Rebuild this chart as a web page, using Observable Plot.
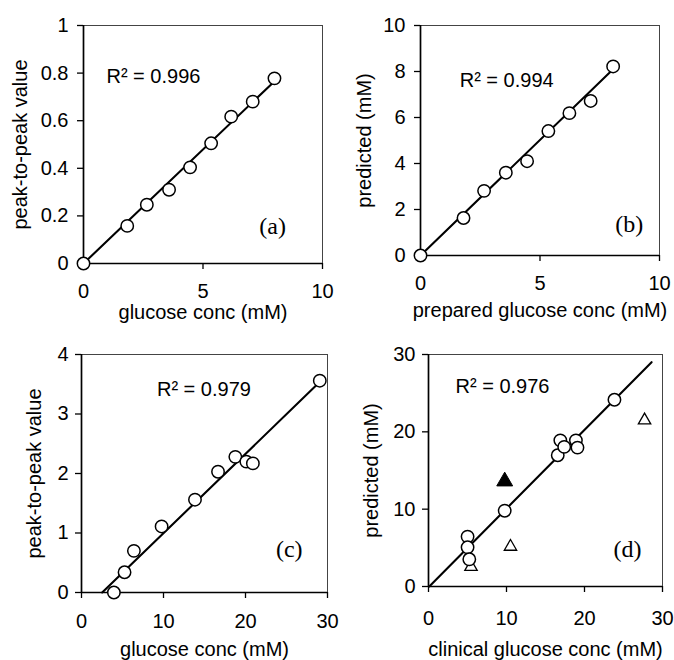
<!DOCTYPE html>
<html><head><meta charset="utf-8">
<script src="https://cdn.jsdelivr.net/npm/d3@7"></script>
<script src="https://cdn.jsdelivr.net/npm/@observablehq/plot@0.6"></script>
<style>
body{margin:0;background:#fff;}
#chart{position:relative;width:674px;height:660px;overflow:hidden;background:#fff;}
#chart svg{position:absolute;overflow:visible;}
</style></head><body><div id="chart"></div>
<script>
// ---- Panel (a) ----
const aX = [0, 1.83, 2.65, 3.58, 4.46, 5.34, 6.18, 7.08, 7.99];
const aY = [0, 0.158, 0.247, 0.31, 0.404, 0.505, 0.617, 0.68, 0.778];
const aFitX = [0, 7.95];
const aFitY = [0, 0.762];
const aXTicks = [0, 5, 10];
const aYTicks = [0, 0.2, 0.4, 0.6, 0.8, 1];

// ---- Panel (b) ----
const bX = [0, 1.80, 2.66, 3.57, 4.46, 5.35, 6.23, 7.12, 8.06];
const bY = [0, 1.63, 2.81, 3.60, 4.10, 5.41, 6.19, 6.72, 8.22];
const bFitX = [0, 7.96];
const bFitY = [0, 8.0];
const bXTicks = [0, 5, 10];
const bYTicks = [0, 2, 4, 6, 8, 10];

// ---- Panel (c) ----
const cX = [3.95, 5.25, 6.39, 9.77, 13.84, 16.65, 18.76, 20.1, 20.9, 29.06];
const cY = [0, 0.34, 0.70, 1.11, 1.56, 2.03, 2.28, 2.20, 2.17, 3.56];
const cFitX = [2.52, 28.7];
const cFitY = [0, 3.49];
const cXTicks = [0, 10, 20, 30];
const cYTicks = [0, 1, 2, 3, 4];

// ---- Panel (d) ----
const dCircX = [5.01, 5.01, 5.23, 9.77, 16.57, 16.9, 17.4, 18.9, 19.1, 23.84];
const dCircY = [6.45, 5.07, 3.52, 9.80, 16.97, 18.9, 18.05, 18.9, 17.96, 24.15];
const dOpenTriX = [5.45, 10.51, 27.7];
const dOpenTriY = [2.55, 5.15, 21.5];
const dFilledTriX = [9.77];
const dFilledTriY = [13.6];
const dFitX = [0.1, 28.6];
const dFitY = [0, 29.0];
const dXTicks = [0, 10, 20, 30];
const dYTicks = [0, 10, 20, 30];

const zip = (xs, ys) => xs.map((x, i) => ({x, y: ys[i]}));
const SANS = "'Liberation Sans', Arial, Helvetica, sans-serif";
const SERIF = "'Liberation Serif', 'Times New Roman', serif";

function panel(c) {
  const marks = [
    Plot.frame({stroke: "#444", strokeWidth: 1}),
    Plot.ruleX([c.xDomain[0]], {stroke: "black", strokeWidth: 1.7}),
    Plot.ruleY([c.yDomain[0]], {stroke: "black", strokeWidth: 1.7}),
    Plot.axisX(c.xTicks, {tickSize: 6, tickPadding: c.xPad, tickFormat: d => String(d), label: null, stroke: "black", strokeWidth: 1.3, fill: "black"}),
    Plot.axisY(c.yTicks, {tickSize: 6, tickPadding: c.yPad, tickFormat: d => String(d), label: null, stroke: "black", strokeWidth: 1.3, fill: "black"}),
    Plot.text([c.xLabel], {text: d => d, frameAnchor: "bottom", textAnchor: "middle", lineAnchor: "top", dy: c.xLabelDy, fill: "black"}),
    Plot.text([c.yLabel], {text: d => d, frameAnchor: "left", textAnchor: "middle", rotate: -90, lineAnchor: "middle", dx: c.yLabelDx, fill: "black"}),
    Plot.line(zip(c.fitX, c.fitY), {x: "x", y: "y", stroke: "black", strokeWidth: 2.1}),
    ...c.extra,
    Plot.dot(zip(c.xs, c.ys), {x: "x", y: "y", r: 6.2, stroke: "black", fill: "white", strokeWidth: 1.5}),
    Plot.text([c.r2], {text: d => d, x: c.r2Pos[0], y: c.r2Pos[1], textAnchor: "start", lineAnchor: "middle", fill: "black"}),
    Plot.text([c.tag], {text: d => d, x: c.tagPos[0], y: c.tagPos[1], textAnchor: "middle", lineAnchor: "middle", fontFamily: SERIF, fontSize: 24, fill: "black"})
  ];
  const svg = Plot.plot({
    width: 337, height: 330,
    marginLeft: c.m[0], marginRight: c.m[1], marginTop: c.m[2], marginBottom: c.m[3],
    x: {domain: c.xDomain},
    y: {domain: c.yDomain},
    style: {fontSize: "20px", fontFamily: SANS, background: "transparent", overflow: "visible", color: "black"},
    marks
  });
  svg.style.left = c.pos[0] + "px";
  svg.style.top = c.pos[1] + "px";
  document.getElementById("chart").appendChild(svg);
}

panel({
  pos: [0, 0], m: [83, 15, 25, 67],
  xDomain: [0, 10], yDomain: [0, 1],
  xTicks: aXTicks, yTicks: aYTicks, xPad: 14, yPad: 9,
  xLabel: "glucose conc (mM)", xLabelDy: 41,
  yLabel: "peak-to-peak value", yLabelDx: -62.5,
  xs: aX, ys: aY, fitX: aFitX, fitY: aFitY, extra: [],
  r2: "R² = 0.996", r2Pos: [0.96, 0.787],
  tag: "(a)", tagPos: [7.91, 0.155]
});

panel({
  pos: [337, 0], m: [83, 15, 25, 75],
  xDomain: [0, 10], yDomain: [0, 10],
  xTicks: bXTicks, yTicks: bYTicks, xPad: 14, yPad: 9,
  xLabel: "prepared glucose conc (mM)", xLabelDy: 47,
  yLabel: "predicted (mM)", yLabelDx: -55.7,
  xs: bX, ys: bY, fitX: bFitX, fitY: bFitY, extra: [],
  r2: "R² = 0.994", r2Pos: [1.64, 7.59],
  tag: "(b)", tagPos: [8.73, 1.34]
});

panel({
  pos: [0, 330], m: [81, 10, 24, 68],
  xDomain: [0, 30], yDomain: [0, 4],
  xTicks: cXTicks, yTicks: cYTicks, xPad: 15, yPad: 7,
  xLabel: "glucose conc (mM)", xLabelDy: 49,
  yLabel: "peak-to-peak value", yLabelDx: -47,
  xs: cX, ys: cY, fitX: cFitX, fitY: cFitY, extra: [],
  r2: "R² = 0.979", r2Pos: [9.2, 3.41],
  tag: "(c)", tagPos: [25.33, 0.72]
});

panel({
  pos: [337, 330], m: [91, 12, 24, 74],
  xDomain: [0, 30], yDomain: [0, 30],
  xTicks: dXTicks, yTicks: dYTicks, xPad: 18, yPad: 7,
  xLabel: "clinical glucose conc (mM)", xLabelDy: 55,
  yLabel: "predicted (mM)", yLabelDx: -57,
  xs: dCircX, ys: dCircY, fitX: dFitX, fitY: dFitY,
  extra: [
    Plot.dot(zip(dOpenTriX, dOpenTriY), {x: "x", y: "y", symbol: "triangle", r: 4.6, stroke: "black", fill: "white", strokeWidth: 1.3}),
    Plot.dot(zip(dFilledTriX, dFilledTriY), {x: "x", y: "y", symbol: "triangle", r: 5.9, stroke: "black", fill: "black", strokeWidth: 1})
  ],
  r2: "R² = 0.976", r2Pos: [3.46, 25.8],
  tag: "(d)", tagPos: [25.5, 4.76]
});
</script></body></html>
